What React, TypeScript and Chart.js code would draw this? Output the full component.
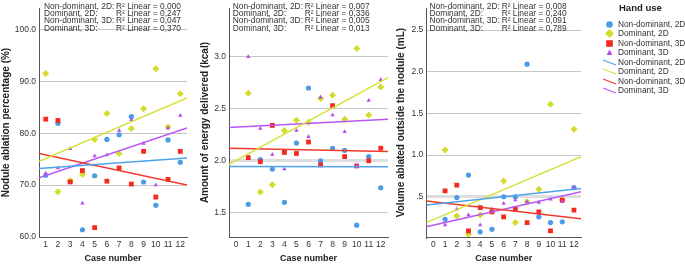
import React, { useEffect, useRef } from 'react';
import { Chart, registerables } from 'chart.js';

Chart.register(...registerables);

// ---------- data ----------
const caseNumbers = [1, 2, 3, 4, 5, 6, 7, 8, 9, 10, 11, 12];
const caseTicksA = [1, 2, 3, 4, 5, 6, 7, 8, 9, 10, 11, 12];
const caseTicksB = [0, 1, 2, 3, 4, 5, 6, 7, 8, 9, 10, 11, 12];

const seriesNames = ['Non-dominant, 2D', 'Dominant, 2D', 'Non-dominant, 3D', 'Dominant, 3D'];

// Panel 1: Nodule ablation percentage (%)
const ablationNonDom2D = [71.9, 81.9, 70.7, 61.4, 71.8, 78.8, 79.7, 83.2, 70.6, 66.1, 78.7, 74.4];
const ablationDom2D = [91.5, 68.7, 70.9, 72.1, 78.8, 83.8, 76.1, 80.9, 84.7, 92.4, 81.2, 87.6];
const ablationNonDom3D = [82.7, 82.45, 70.6, 72.8, 61.8, 70.75, 73.3, 70.2, 76.5, 67.7, 71.1, 76.5];
const ablationDom3D = [72.3, 73.3, 77.0, 66.5, 75.6, 75.8, 80.5, 82.6, 78.0, 70.0, 81.0, 83.4];
const ablationFitStart = [73.2, 74.6, 76.1, 71.4];
const ablationFitEnd = [75.2, 86.8, 70.0, 81.0];
const ablationR2 = ['0,000', '0,247', '0,047', '0,370'];
const ablationYTicks = [60, 70, 80, 90, 100];
const ablationYLabels = ['60.0', '70.0', '80.0', '90.0', '100.0'];

// Panel 2: Amount of energy delivered (kcal)
const energyNonDom2D = [1.58, 2.01, 1.92, 1.6, 2.17, 2.7, 2.0, 2.12, 2.1, 1.38, 2.04, 1.74];
const energyDom2D = [2.65, 1.7, 1.77, 2.29, 2.39, 2.37, 2.6, 2.63, 2.4, 3.08, 2.44, 2.71];
const energyNonDom3D = [2.03, 1.99, 2.34, 2.08, 2.07, 2.18, 1.96, 2.53, 2.04, 1.95, 2.0, 2.12];
const energyDom3D = [3.0, 2.31, 2.06, 1.92, 2.29, 2.23, 2.61, 2.44, 2.28, 1.95, 2.58, 2.78];
const energyFitStart = [1.945, 1.965, 2.12, 2.32];
const energyFitEnd = [1.943, 2.8, 2.09, 2.4];
const energyR2 = ['0,007', '0,336', '0,005', '0,013'];
const energyYTicks = [1.5, 2.0, 2.5, 3.0];
const energyYLabels = ['1.5', '2.0', '2.5', '3.0'];

// Panel 3: Volume ablated outside the nodule (mL)
const volumeNonDom2D = [0.23, 0.49, 0.76, 0.08, 0.11, 0.5, 0.5, 2.09, 0.26, 0.19, 0.2, 0.61];
const volumeDom2D = [1.06, 0.27, 0.05, 0.28, 0.33, 0.69, 0.19, 0.44, 0.59, 1.61, 0.46, 1.31];
const volumeNonDom3D = [0.57, 0.64, 0.09, 0.37, 0.32, 0.26, 0.35, 0.19, 0.32, 0.09, 0.46, 0.34];
const volumeDom3D = [0.16, 0.35, 0.28, 0.16, 0.35, 0.42, 0.46, 0.44, 0.43, 0.47, 0.44, 0.61];
const volumeFitStart = [0.4, 0.19, 0.45, 0.14];
const volumeFitEnd = [0.6, 0.98, 0.235, 0.56];
const volumeR2 = ['0,008', '0,240', '0,091', '0,789'];
const volumeYTicks = [0.5, 1.0, 1.5, 2.0, 2.5];
const volumeYLabels = ['.5', '1.0', '1.5', '2.0', '2.5'];

// ---------- styles ----------
const markerColors = ['#4a9be8', '#d3dc2c', '#f42a1e', '#b34df2'];
const lineColors = ['#4fa3ee', '#d8e03a', '#f23a2e', '#b857f2'];
const markerStyles = ['circle', 'rectRot', 'rect', 'triangle'];
const markerRadii = [2.6, 3.5, 3.4, 2.5];
const FONT = "'Liberation Sans', Arial, Helvetica, sans-serif";
const TEXT = '#333333';

type PanelDef = {
  left: number;
  width: number;
  axisW: number;
  padRight: number;
  yTitle: string;
  yTitlePad: number;
  yMin: number;
  yMax: number;
  yTicks: number[];
  yLabels: string[];
  xMin: number;
  xMax: number;
  xTicks: number[];
  series: number[][];
  fitStart: number[];
  fitEnd: number[];
  band: number | null;
  r2: string[];
  annLeft: number;
  annR2: number;
};

const panels: PanelDef[] = [
  {
    left: 0, width: 192, axisW: 39, padRight: 5,
    yTitle: 'Nodule ablation percentage (%)', yTitlePad: 0,
    yMin: 60, yMax: 104.1, yTicks: ablationYTicks, yLabels: ablationYLabels,
    xMin: 0.45, xMax: 12.55, xTicks: caseTicksA,
    series: [ablationNonDom2D, ablationDom2D, ablationNonDom3D, ablationDom3D],
    fitStart: ablationFitStart, fitEnd: ablationFitEnd, band: null,
    r2: ablationR2, annLeft: 44, annR2: 116,
  },
  {
    left: 195, width: 198, axisW: 34, padRight: 5,
    yTitle: 'Amount of energy delivered (kcal)', yTitlePad: 4,
    yMin: 1.266, yMax: 3.469, yTicks: energyYTicks, yLabels: energyYLabels,
    xMin: -0.6, xMax: 12.6, xTicks: caseTicksB,
    series: [energyNonDom2D, energyDom2D, energyNonDom3D, energyDom3D],
    fitStart: energyFitStart, fitEnd: energyFitEnd, band: 2.0,
    r2: energyR2, annLeft: 232.7, annR2: 304.7,
  },
  {
    left: 392, width: 194, axisW: 34.3, padRight: 5,
    yTitle: 'Volume ablated outside the nodule (mL)', yTitlePad: 3,
    yMin: 0.0175, yMax: 2.763, yTicks: volumeYTicks, yLabels: volumeYLabels,
    xMin: -0.6, xMax: 12.6, xTicks: caseTicksB,
    series: [volumeNonDom2D, volumeDom2D, volumeNonDom3D, volumeDom3D],
    fitStart: volumeFitStart, fitEnd: volumeFitEnd, band: 0.5,
    r2: volumeR2, annLeft: 429.5, annR2: 501.7,
  },
];

function PanelChart({ p }: { p: PanelDef }) {
  const ref = useRef<HTMLCanvasElement | null>(null);
  useEffect(() => {
    if (!ref.current) return;
    const datasets: any[] = [];
    p.fitStart.forEach((s, i) => {
      datasets.push({
        type: 'line',
        label: seriesNames[i] + ' fit',
        data: [{ x: p.xMin, y: s }, { x: p.xMax, y: p.fitEnd[i] }],
        borderColor: lineColors[i],
        borderWidth: 1.5,
        pointRadius: 0,
        fill: false,
        tension: 0,
        order: 0,
      });
    });
    p.series.forEach((vals, i) => {
      datasets.push({
        type: 'scatter',
        label: seriesNames[i],
        data: caseNumbers.map((c, j) => ({ x: c, y: vals[j] })),
        pointStyle: markerStyles[i],
        pointRadius: markerRadii[i],
        backgroundColor: markerColors[i],
        borderColor: markerColors[i],
        borderWidth: 0,
        order: 4 - i,
      });
    });
    const chart = new Chart(ref.current, {
      type: 'scatter',
      data: { datasets },
      options: {
        animation: false,
        responsive: false,
        maintainAspectRatio: false,
        events: [],
        layout: { padding: { top: 2, right: p.padRight, left: 0, bottom: 0 } },
        plugins: { legend: { display: false }, tooltip: { enabled: false } },
        scales: {
          x: {
            type: 'linear',
            min: p.xMin,
            max: p.xMax,
            afterBuildTicks: (s: any) => {
              s.ticks = p.xTicks.map((v) => ({ value: v }));
            },
            afterFit: (s: any) => {
              s.height = 27;
            },
            grid: { display: false, drawTicks: false },
            border: { display: true, color: '#555555', width: 1 },
            ticks: {
              padding: 3,
              color: TEXT,
              font: { family: FONT, size: 8.5 },
              maxRotation: 0,
              autoSkip: false,
              callback: (v: any) => String(v),
            },
            title: {
              display: true,
              text: 'Case number',
              color: '#222222',
              font: { family: FONT, size: 9, weight: 'bold' },
              padding: { top: 0, bottom: 0 },
            },
          },
          y: {
            type: 'linear',
            min: p.yMin,
            max: p.yMax,
            afterBuildTicks: (s: any) => {
              s.ticks = p.yTicks.map((v) => ({ value: v }));
            },
            afterFit: (s: any) => {
              s.width = p.axisW;
            },
            grid: {
              drawTicks: false,
              color: (ctx: any) =>
                p.band !== null && ctx.tick && Math.abs(ctx.tick.value - p.band) < 1e-9 ? '#dedede' : '#c6c6c6',
              lineWidth: (ctx: any) =>
                p.band !== null && ctx.tick && Math.abs(ctx.tick.value - p.band) < 1e-9 ? 3 : 1,
            },
            border: { display: true, color: '#555555', width: 1 },
            ticks: {
              padding: 3,
              color: TEXT,
              font: { family: FONT, size: 8.5 },
              autoSkip: false,
              callback: (v: any) => {
                const idx = p.yTicks.findIndex((t) => Math.abs(t - Number(v)) < 1e-9);
                return idx >= 0 ? p.yLabels[idx] : '';
              },
            },
            title: {
              display: true,
              text: p.yTitle,
              color: '#222222',
              font: { family: FONT, size: 10, weight: 'bold' },
              padding: { top: p.yTitlePad, bottom: 0 },
            },
          },
        },
      } as any,
    });
    return () => chart.destroy();
  }, [p]);
  return (
    <canvas
      ref={ref}
      width={p.width}
      height={264}
      style={{ position: 'absolute', left: p.left, top: 0, width: p.width, height: 264 }}
    />
  );
}

function Annotation({ p }: { p: PanelDef }) {
  const labels = ['Non-dominant, 2D:', 'Dominant, 2D:', 'Non-dominant, 3D:', 'Dominant, 3D:'];
  return (
    <>
      {labels.map((l, i) => (
        <React.Fragment key={i}>
          <div
            style={{
              position: 'absolute', left: p.annLeft, top: 1.5 + i * 7.45, fontSize: 8.4,
              lineHeight: '9px', color: TEXT, whiteSpace: 'nowrap', fontFamily: FONT,
            }}
          >
            {l}
          </div>
          <div
            style={{
              position: 'absolute', left: p.annR2, top: 1.5 + i * 7.45, fontSize: 8.4,
              lineHeight: '9px', color: TEXT, whiteSpace: 'nowrap', fontFamily: FONT,
            }}
          >
            {'R² Linear = ' + p.r2[i]}
          </div>
        </React.Fragment>
      ))}
    </>
  );
}

function LegendIcon({ i, line }: { i: number; line: boolean }) {
  const c = markerColors[i];
  let shape: any = null;
  if (line) {
    shape = <line x1={1} y1={2} x2={14} y2={7} stroke={lineColors[i]} strokeWidth={1.2} />;
  } else if (i === 0) {
    shape = <circle cx={7.5} cy={4.5} r={3.3} fill={c} />;
  } else if (i === 1) {
    shape = <polygon points="7.5,0 12,4.5 7.5,9 3,4.5" fill={c} />;
  } else if (i === 2) {
    shape = <rect x={4.2} y={1.2} width={6.6} height={6.6} fill={c} />;
  } else {
    shape = <polygon points="7.5,1.6 10.4,7 4.6,7" fill={c} />;
  }
  return (
    <svg width={15} height={9} style={{ position: 'absolute', left: 0, top: 0 }}>
      {shape}
    </svg>
  );
}

function Legend() {
  const rows = [0, 1, 2, 3, 0, 1, 2, 3];
  return (
    <div style={{ position: 'absolute', left: 600, top: 0, width: 85, height: 100 }}>
      <div
        style={{
          position: 'absolute', left: 19, top: 2, fontSize: 9.5, fontWeight: 'bold',
          color: '#222222', fontFamily: FONT, whiteSpace: 'nowrap', lineHeight: '12px',
        }}
      >
        Hand use
      </div>
      {rows.map((s, k) => (
        <div key={k} style={{ position: 'absolute', left: 1.5, top: 19.5 + k * 9.53, height: 9, width: 100 }}>
          <LegendIcon i={s} line={k >= 4} />
          <div
            style={{
              position: 'absolute', left: 16.5, top: -1, fontSize: 8.3, lineHeight: '11px',
              color: TEXT, fontFamily: FONT, whiteSpace: 'nowrap',
            }}
          >
            {seriesNames[s]}
          </div>
        </div>
      ))}
    </div>
  );
}

export default function App() {
  return (
    <div
      style={{
        position: 'fixed', left: 0, top: 0, width: 685, height: 264, overflow: 'hidden',
        background: '#ffffff', fontFamily: FONT,
      }}
    >
      {panels.map((p, i) => (
        <PanelChart key={i} p={p} />
      ))}
      {panels.map((p, i) => (
        <Annotation key={'a' + i} p={p} />
      ))}
      <Legend />
    </div>
  );
}
